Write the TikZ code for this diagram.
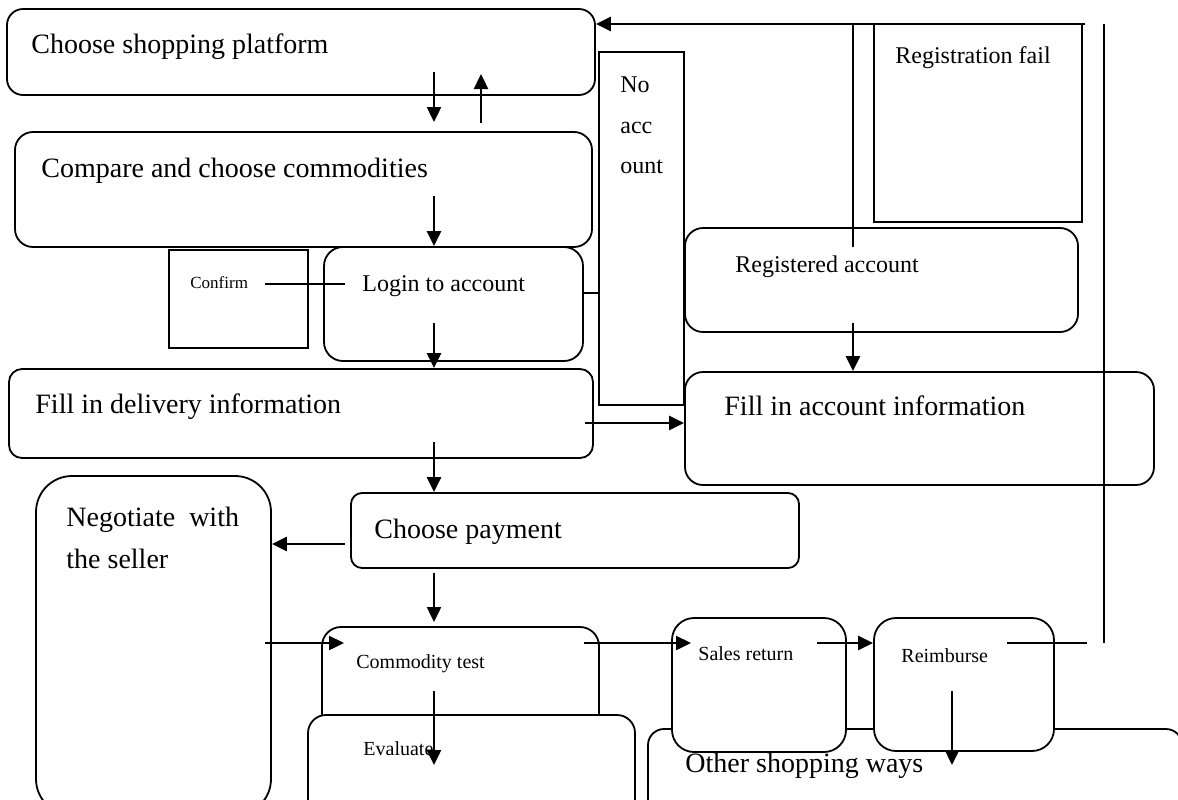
\documentclass[tikz,border=0pt]{standalone}
\usepackage{fontspec}
\setmainfont{Liberation Serif}
\usetikzlibrary{fit,arrows.meta}

\tikzset{
  box/.style={draw, line width=0.9pt, rounded corners=8pt, inner sep=0pt, fill=white},
  sqbox/.style={draw, line width=0.8pt, inner sep=0pt, fill=white},
  bigtxt/.style={font=\fontsize{14}{16}\selectfont, anchor=base west, inner sep=0pt},
  midtxt/.style={font=\fontsize{12}{14}\selectfont, anchor=base west, inner sep=0pt},
  smalltxt/.style={font=\fontsize{10}{12}\selectfont, anchor=base west, inner sep=0pt},
  arr/.style={line width=1.2pt, -{Triangle[length=7.5pt,width=7pt]}},
  ln/.style={line width=0.8pt},
}

\begin{document}
\begin{tikzpicture}[x=0.5pt,y=-0.5pt]
\useasboundingbox (0,0) rectangle (1178,799);
\clip (0,0) rectangle (1178,799);

% boxes
\node[box, fit={(7,9) (595,95)}] (plat) {};
\node[box, rounded corners=9pt, fit={(15,132) (592,247)}] (cmp) {};
\node[sqbox, fit={(169,250) (308,348)}] (conf) {};
\node[box, rounded corners=9.5pt, fit={(324,247) (583,361)}] (login) {};
\node[box, rounded corners=6.5pt, fit={(9,369) (593,458)}] (deliv) {};
\node[sqbox, fit={(874,24) (1082,222)}] (fail) {};
\node[box, rounded corners=9pt, fit={(685,228) (1078,332)}] (reg) {};
\node[box, rounded corners=9pt, fit={(685,372) (1154,485)}] (acct) {};
\node[box, rounded corners=18pt, fit={(36,476) (271,815)}] (nego) {};
\node[box, rounded corners=5.5pt, fit={(351,493) (799,568)}] (pay) {};
\node[box, rounded corners=9.5pt, fit={(322,627) (599,830)}] (test) {};
\node[box, rounded corners=9pt, fit={(308,715) (635,840)}] (eval) {};
\node[box, fit={(648,729) (1182,840)}] (other) {};
\node[box, rounded corners=11pt, fit={(672,618) (846,752)}] (sales) {};
\node[box, rounded corners=11pt, fit={(874,618) (1054,751)}] (reimb) {};

% free ends of the connectors
\coordinate (platDn) at (434,72);   \coordinate (cmpIn) at (434,122);
\coordinate (cmpUp) at (481,123);   \coordinate (platIn) at (481,74);
\coordinate (cmpDn) at (434,196);
\coordinate (confR) at (265,284);   \coordinate (loginL) at (345,284);
\coordinate (loginR) at (583,293);
\coordinate (loginDn) at (434,323);
\coordinate (regDn) at (853,323);
\coordinate (regUp) at (853,247);
\coordinate (delivR) at (585,423);
\coordinate (delivDn) at (434,442);
\coordinate (payL) at (345,544);
\coordinate (payDn) at (434,573);   \coordinate (testIn) at (434,622);
\coordinate (negoR) at (265,643);   \coordinate (testL) at (344,643);
\coordinate (testR) at (584,643);   \coordinate (salesL) at (691,643);
\coordinate (salesR) at (817,643);
\coordinate (testDn) at (434,691);  \coordinate (evalIn) at (434,765);
\coordinate (reimbDn) at (952,691); \coordinate (otherIn) at (952,765);
\coordinate (reimbR) at (1007,643); \coordinate (sideEnd) at (1087,643);
\coordinate (sideT) at (1104,24);   \coordinate (sideB) at (1104,643);
\coordinate (topR) at (1085,24);

\draw[line width=0.8pt, -{Triangle[length=3pt,width=3pt]}] (loginR) -- (loginR -| reg.west);

% the tall box hides the line to the registered account
\node[sqbox, fit={(599,52) (684,405)}] (noacc) {};

% texts
\node[bigtxt] (tPlat) at (31,53) {Choose shopping platform};
\node[bigtxt] (tCmp) at (41,177) {Compare and choose commodities};
\node[font=\fontsize{8.5}{10}\selectfont, anchor=base west, inner sep=0pt] (tConf) at (190,288) {Confirm};
\node[midtxt] (tLogin) at (362,291) {Login to account};
\foreach \t/\y [count=\i] in {No/92, acc/133, ount/173}
  \node[midtxt] (tNo\i) at (620,\y) {\t};
\node[midtxt] (tFail) at (895,63) {Registration fail};
\node[midtxt] (tReg) at (735,272) {Registered account};
\node[bigtxt] (tAcct) at (724,415) {Fill in account information};
\node[bigtxt] (tDeliv) at (35,413) {Fill in delivery information};
\node[bigtxt] (tNego1) at (66,526) {Negotiate\ \ with};
\node[bigtxt] (tNego2) at (66,568) {the seller};
\node[bigtxt] (tPay) at (374,538) {Choose payment};
\node[smalltxt] (tTest) at (356,668) {Commodity test};
\node[smalltxt] (tEval) at (363,755) {Evaluate};
\node[bigtxt] (tOther) at (685,772) {Other shopping ways};
\node[smalltxt] (tSales) at (698,660) {Sales return};
\node[smalltxt] (tReimb) at (901,662) {Reimburse};

% connectors
\draw[arr] (platDn) -- (cmpIn);
\draw[arr] (cmpUp) -- (platIn);
\draw[arr] (cmpDn) -- (cmpDn |- login.north);
\draw[ln] (confR) -- (loginL);
\draw[arr] (loginDn) -- (loginDn |- deliv.north);
\draw[arr] (regDn) -- (regDn |- acct.north);
\draw[arr] (delivR) -- (delivR -| acct.west);
\draw[arr] (delivDn) -- (delivDn |- pay.north);
\draw[arr] (payL) -- (payL -| nego.east);
\draw[arr] (payDn) -- (testIn);
\draw[arr] (negoR) -- (testL);
\draw[arr] (testR) -- (salesL);
\draw[arr] (salesR) -- (salesR -| reimb.west);
\draw[arr] (testDn) -- (evalIn);
\draw[arr] (reimbDn) -- (otherIn);
\draw[ln] (reimbR) -- (sideEnd);
\draw[ln] (sideT) -- (sideB);
\draw[ln] (regUp) -- (regUp |- topR);
\draw[arr] (topR) -- (topR -| plat.east);
\end{tikzpicture}
\end{document}
